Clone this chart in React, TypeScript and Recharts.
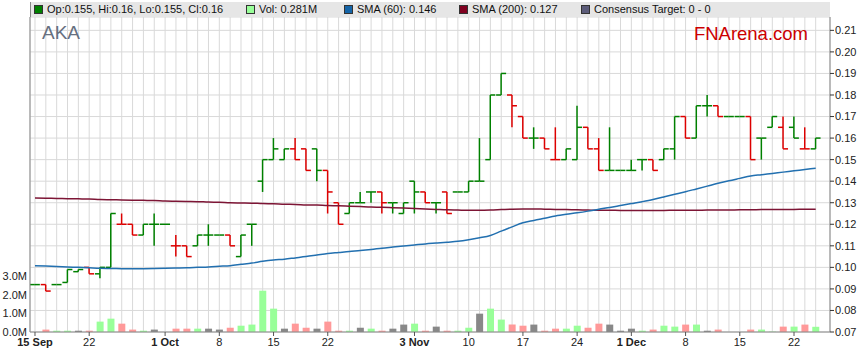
import React from 'react'
import { ComposedChart, Bar, Line, XAxis, YAxis, CartesianGrid, Cell } from 'recharts'

// trading days shown, 15 Sep - 24 Dec 2025
const days = [
  '15 Sep', '16 Sep', '17 Sep', '18 Sep', '19 Sep', '22 Sep', '23 Sep', '24 Sep', '25 Sep', '26 Sep', '29 Sep', '30 Sep',
  '1 Oct', '2 Oct', '3 Oct', '6 Oct', '7 Oct', '8 Oct', '9 Oct', '10 Oct', '13 Oct', '14 Oct', '15 Oct', '16 Oct',
  '17 Oct', '20 Oct', '21 Oct', '22 Oct', '23 Oct', '24 Oct', '27 Oct', '28 Oct', '29 Oct', '30 Oct', '31 Oct',
  '3 Nov', '4 Nov', '5 Nov', '6 Nov', '7 Nov', '10 Nov', '11 Nov', '12 Nov', '13 Nov', '14 Nov', '17 Nov', '18 Nov',
  '19 Nov', '20 Nov', '21 Nov', '24 Nov', '25 Nov', '26 Nov', '27 Nov', '28 Nov',
  '1 Dec', '2 Dec', '3 Dec', '4 Dec', '5 Dec', '8 Dec', '9 Dec', '10 Dec', '11 Dec', '12 Dec', '15 Dec', '16 Dec',
  '17 Dec', '18 Dec', '19 Dec', '22 Dec', '23 Dec', '24 Dec'
]

const opens = [
  0.092, 0.092, 0.092, 0.093, 0.098, 0.1, 0.097, 0.1, 0.12, 0.12, 0.115, 0.12, 0.12, 0.11, 0.11, 0.11, 0.115, 0.115,
  0.115, 0.105, 0.12, 0.14, 0.15, 0.15, 0.155, 0.155, 0.155, 0.145, 0.13, 0.125, 0.13, 0.135, 0.135, 0.13, 0.125,
  0.14, 0.135, 0.13, 0.135, 0.135, 0.135, 0.14, 0.15, 0.18, 0.18, 0.17, 0.16, 0.16, 0.15, 0.15, 0.15, 0.165, 0.155,
  0.145, 0.145, 0.145, 0.15, 0.15, 0.15, 0.155, 0.17, 0.16, 0.175, 0.175, 0.17, 0.17, 0.17, 0.16, 0.165, 0.165,
  0.165, 0.155, 0.155
]
const highs = [
  0.092, 0.092, 0.092, 0.099, 0.099, 0.1, 0.1, 0.125, 0.125, 0.12, 0.12, 0.125, 0.12, 0.115, 0.11, 0.115, 0.12, 0.115,
  0.115, 0.115, 0.12, 0.15, 0.16, 0.155, 0.16, 0.155, 0.155, 0.145, 0.13, 0.13, 0.135, 0.135, 0.135, 0.13, 0.13,
  0.14, 0.135, 0.13, 0.135, 0.135, 0.14, 0.16, 0.18, 0.19, 0.18, 0.17, 0.165, 0.16, 0.165, 0.155, 0.175, 0.165, 0.16,
  0.165, 0.145, 0.15, 0.15, 0.15, 0.155, 0.17, 0.17, 0.175, 0.18, 0.175, 0.17, 0.17, 0.17, 0.16, 0.17, 0.17,
  0.17, 0.165, 0.16
]
const lows = [
  0.092, 0.089, 0.092, 0.093, 0.098, 0.097, 0.095, 0.1, 0.12, 0.115, 0.115, 0.11, 0.12, 0.105, 0.105, 0.11, 0.11, 0.115,
  0.11, 0.105, 0.11, 0.135, 0.15, 0.15, 0.15, 0.145, 0.14, 0.125, 0.12, 0.125, 0.13, 0.13, 0.125, 0.125, 0.125,
  0.125, 0.13, 0.125, 0.125, 0.135, 0.135, 0.14, 0.15, 0.18, 0.165, 0.16, 0.155, 0.155, 0.15, 0.15, 0.15, 0.155, 0.145,
  0.145, 0.145, 0.145, 0.145, 0.145, 0.15, 0.15, 0.16, 0.16, 0.17, 0.17, 0.17, 0.17, 0.15, 0.15, 0.165, 0.155,
  0.16, 0.155, 0.155
]
const closes = [
  0.092, 0.089, 0.092, 0.099, 0.099, 0.097, 0.1, 0.125, 0.12, 0.115, 0.12, 0.12, 0.12, 0.11, 0.105, 0.115, 0.115, 0.115,
  0.11, 0.115, 0.12, 0.15, 0.155, 0.155, 0.15, 0.145, 0.145, 0.135, 0.12, 0.13, 0.13, 0.135, 0.13, 0.13, 0.13,
  0.135, 0.13, 0.13, 0.125, 0.135, 0.14, 0.14, 0.18, 0.19, 0.175, 0.16, 0.16, 0.155, 0.15, 0.155, 0.165, 0.155, 0.145,
  0.145, 0.145, 0.145, 0.15, 0.145, 0.155, 0.17, 0.16, 0.175, 0.175, 0.17, 0.17, 0.17, 0.15, 0.16, 0.17, 0.155,
  0.16, 0.155, 0.16
]
// volume in millions
const volumes = [
  0, 0.13, 0.07, 0.07, 0.07, 0.07, 0.56, 0.72, 0.45, 0.13, 0.07, 0.13, 0, 0.18, 0.18, 0.18, 0.18, 0.13,
  0.23, 0.34, 0.4, 2.23, 1.26, 0.18, 0.45, 0.23, 0.18, 0.56, 0.07, 0.07, 0.23, 0.18, 0.07, 0.18, 0.4,
  0.45, 0.07, 0.29, 0.07, 0.07, 0.23, 0.99, 1.26, 0.67, 0.4, 0.34, 0.4, 0.07, 0.18, 0.18, 0.34, 0.23, 0.45,
  0.4, 0.07, 0.18, 0.07, 0.13, 0.34, 0.29, 0.4, 0.4, 0.07, 0.13, 0, 0, 0.13, 0.13, 0.02, 0.29,
  0.29, 0.4, 0.281
]
const sma60 = [
  0.1008, 0.1006, 0.1004, 0.1002, 0.1, 0.0998, 0.0996, 0.0995, 0.0994, 0.0993,
  0.0994, 0.0995, 0.0996, 0.0997, 0.0998, 0.1, 0.1002, 0.1005, 0.1008, 0.1014,
  0.102, 0.1028, 0.1034, 0.1038, 0.1044, 0.105, 0.1057, 0.1064, 0.1069, 0.1074,
  0.1078, 0.1083, 0.1089, 0.1094, 0.1099, 0.1104, 0.1109, 0.1113, 0.1117, 0.1121,
  0.1128, 0.1137, 0.1148, 0.1168, 0.1188, 0.1207, 0.1218, 0.1228, 0.1238, 0.1246,
  0.1253, 0.1261, 0.127, 0.1278, 0.1287, 0.1296, 0.1305, 0.1315, 0.1327, 0.1339,
  0.1351, 0.1364, 0.1377, 0.139, 0.1402, 0.1413, 0.1424, 0.143, 0.1436, 0.1442,
  0.1448, 0.1454, 0.146
]
const sma200 = [
  0.1322, 0.1321, 0.132, 0.1319, 0.1318, 0.1317, 0.1315, 0.1314, 0.1313, 0.1312,
  0.1311, 0.131, 0.1308, 0.1307, 0.1306, 0.1305, 0.1303, 0.1302, 0.13, 0.1299,
  0.1298, 0.1296, 0.1295, 0.1293, 0.1292, 0.129, 0.1289, 0.1287, 0.1286, 0.1284,
  0.1282, 0.128, 0.1279, 0.1277, 0.1275, 0.1273, 0.1271, 0.1269, 0.1267, 0.1266,
  0.1265, 0.1265, 0.1266, 0.1268, 0.127, 0.1271, 0.1271, 0.127, 0.1269, 0.1268,
  0.1267, 0.1266, 0.1265, 0.1265, 0.1264, 0.1264, 0.1264, 0.1264, 0.1264, 0.1265,
  0.1265, 0.1265, 0.1266, 0.1266, 0.1266, 0.1267, 0.1267, 0.1268, 0.1268, 0.1269,
  0.1269, 0.127, 0.127
]

const tickDays = [0, 5, 12, 17, 22, 27, 35, 40, 45, 50, 55, 60, 65, 70]
const tickLabels = ['15 Sep', '22', '1 Oct', '8', '15', '22', '3 Nov', '10', '17', '24', '1 Dec', '8', '15', '22']
const priceTicks = [0.07, 0.08, 0.09, 0.1, 0.11, 0.12, 0.13, 0.14, 0.15, 0.16, 0.17, 0.18, 0.19, 0.2, 0.21]
const volumeTicks = [0, 1, 2, 3]

const FONT = '"Liberation Sans", Arial, sans-serif'
const UP = '#008000'
const DOWN = '#dd0000'
const VOL_UP = '#99ff99'
const VOL_DOWN = '#ff9999'
const VOL_FLAT = '#888888'
const SMA60_COLOR = '#2270b0'
const SMA200_COLOR = '#7d1535'

const dayIndex = days.map((_, i) => i)

const data = days.map((date, i) => {
  const prev = i > 0 ? closes[i - 1] : closes[i]
  return {
    i,
    date,
    open: opens[i],
    high: highs[i],
    low: lows[i],
    close: closes[i],
    range: [lows[i], highs[i]],
    volume: volumes[i],
    sma60: sma60[i],
    sma200: sma200[i],
    up: closes[i] >= prev,
    change: closes[i] > prev ? 1 : closes[i] < prev ? -1 : 0
  }
})

const last = data[data.length - 1]

const OhlcShape = (props: any) => {
  const { x, y, width, height, payload } = props
  if (x == null || y == null) return null
  const cx = x + width / 2
  const top = Math.min(y, y + height)
  const bottom = Math.max(y, y + height)
  const span = payload.high - payload.low
  const toY = (v: number) => (span > 0 ? top + ((payload.high - v) / span) * (bottom - top) : top)
  const oy = toY(payload.open)
  const cy = toY(payload.close)
  return (
    <g stroke={payload.up ? UP : DOWN} strokeWidth={1.5}>
      {span > 0 && <line x1={cx} x2={cx} y1={top} y2={bottom} />}
      <line x1={cx - 5} x2={cx} y1={oy} y2={oy} />
      <line x1={cx} x2={cx + 5} y1={cy} y2={cy} />
    </g>
  )
}

const DayTick = (props: any) => {
  const { x, y, payload } = props
  const k = tickDays.indexOf(payload.value)
  if (k < 0) return null
  const label = tickLabels[k]
  return (
    <g>
      <line x1={x} x2={x} y1={y - 6} y2={y - 2} stroke="#555" />
      <text
        x={x}
        y={y}
        dy="0.71em"
        textAnchor="middle"
        fontSize={11}
        fontFamily={FONT}
        fontWeight={label.includes(' ') ? 'bold' : 'normal'}
        fill="#222"
      >
        {label}
      </text>
    </g>
  )
}

const Swatch = ({ color }: { color: string }) => (
  <span
    style={{
      display: 'inline-block',
      width: 7,
      height: 7,
      background: color,
      border: '1px solid #333',
      marginRight: 4,
      verticalAlign: -1
    }}
  />
)

export default function App() {
  const legend = [
    { color: UP, text: `Op:${last.open}, Hi:${last.high}, Lo:${last.low}, Cl:${last.close}`, left: 34 },
    { color: VOL_UP, text: `Vol: ${last.volume}M`, left: 246 },
    { color: '#1565a8', text: `SMA (60): ${last.sma60.toFixed(3)}`, left: 344 },
    { color: '#800020', text: `SMA (200): ${last.sma200.toFixed(3)}`, left: 459 },
    { color: '#5c5c7a', text: 'Consensus Target: 0 - 0', left: 581 }
  ]

  return (
    <div style={{ position: 'absolute', left: 0, top: 0, width: 859, height: 363, background: '#fff', fontFamily: FONT }}>
      <ComposedChart width={859} height={363} data={data} margin={{ top: 17, right: 0, bottom: 0, left: 0 }}>
        <CartesianGrid xAxisId="main" yAxisId="p" stroke="#d9d9d9" />
        <XAxis
          xAxisId="main"
          dataKey="i"
          type="number"
          domain={[-0.46, 73.32]}
          allowDataOverflow
          ticks={dayIndex}
          interval={0}
          tick={<DayTick />}
          tickLine={false}
          tickSize={4}
          tickMargin={2}
          height={31}
          axisLine={{ stroke: '#888' }}
        />
        <XAxis
          xAxisId="vol"
          dataKey="i"
          type="number"
          domain={[-0.46, 73.32]}
          allowDataOverflow
          ticks={dayIndex}
          interval={0}
          hide
        />
        <YAxis
          yAxisId="v"
          orientation="left"
          width={30}
          domain={[0, 17]}
          allowDataOverflow
          ticks={volumeTicks}
          interval={0}
          tickFormatter={(v: number) => v.toFixed(1) + 'M'}
          tick={{ fontSize: 11, fill: '#222', fontFamily: FONT }}
          tickLine={false}
          tickSize={0}
          tickMargin={3}
          axisLine={{ stroke: '#888' }}
        />
        <YAxis
          yAxisId="p"
          orientation="right"
          width={29}
          domain={[0.07, 0.2162]}
          allowDataOverflow
          ticks={priceTicks}
          interval={0}
          tickFormatter={(v: number) => v.toFixed(2)}
          tick={{ fontSize: 11, fill: '#222', fontFamily: FONT }}
          tickLine={{ stroke: '#333' }}
          tickSize={4}
          tickMargin={1}
          axisLine={{ stroke: '#888' }}
        />
        <Bar xAxisId="vol" yAxisId="v" dataKey="volume" barSize={7} isAnimationActive={false}>
          {data.map((d) => (
            <Cell key={d.i} fill={d.change > 0 ? VOL_UP : d.change < 0 ? VOL_DOWN : VOL_FLAT} />
          ))}
        </Bar>
        <Line
          xAxisId="main"
          yAxisId="p"
          type="monotone"
          dataKey="sma200"
          stroke={SMA200_COLOR}
          strokeWidth={1.5}
          dot={false}
          isAnimationActive={false}
        />
        <Line
          xAxisId="main"
          yAxisId="p"
          type="monotone"
          dataKey="sma60"
          stroke={SMA60_COLOR}
          strokeWidth={1.5}
          dot={false}
          isAnimationActive={false}
        />
        <Bar
          xAxisId="main"
          yAxisId="p"
          dataKey="range"
          barSize={10.6}
          shape={<OhlcShape />}
          isAnimationActive={false}
        />
      </ComposedChart>

      {/* legend strip */}
      <div
        style={{
          position: 'absolute',
          left: 30,
          top: 2,
          width: 800,
          height: 15,
          background: '#e6e6e6',
          borderLeft: '1px solid #888',
          boxSizing: 'border-box'
        }}
      />
      {legend.map((item) => (
        <div
          key={item.text}
          style={{
            position: 'absolute',
            left: item.left,
            top: 2,
            height: 15,
            lineHeight: '15px',
            fontSize: 11,
            color: '#111',
            whiteSpace: 'nowrap'
          }}
        >
          <Swatch color={item.color} />
          {item.text}
        </div>
      ))}
      <div style={{ position: 'absolute', left: 42, top: 23, fontSize: 19, lineHeight: '19px', color: '#667080' }}>AKA</div>
      <div style={{ position: 'absolute', right: 51, top: 24, fontSize: 18.5, lineHeight: '19px', color: '#cc0000' }}>
        FNArena.com
      </div>
    </div>
  )
}
